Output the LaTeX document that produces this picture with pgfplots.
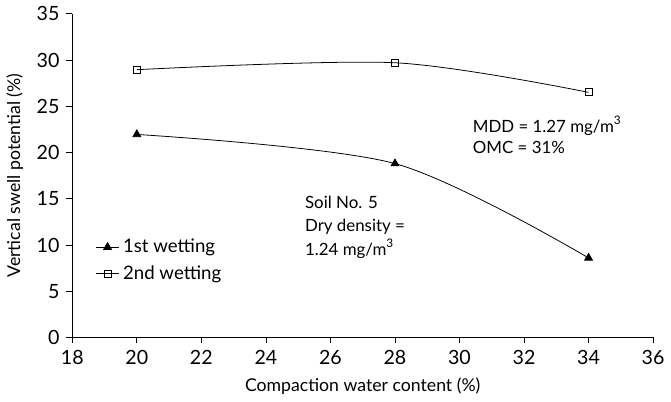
\documentclass[border=0pt]{standalone}
\usepackage{fontspec}
\setmainfont{Lato}
\usepackage{pgfplots}
\pgfplotsset{compat=1.18}

\begin{document}
\begin{tikzpicture}
\begin{axis}[
    scale only axis,
    width=296pt, height=165pt,
    xmin=18, xmax=36, ymin=0, ymax=35,
    xtick={18,20,...,36}, ytick={0,5,...,35},
    axis lines=left,
    axis line style={-},
    tick align=outside,
    tick pos=left,
    major tick length=3pt,
    tick style={black, thin},
    /pgf/number format/assume math mode=true,
    ticklabel style={font=\fontsize{10}{11}\selectfont},
    label style={font=\fontsize{9}{10}\selectfont},
    xlabel={Compaction water content (\%)},
    ylabel={Vertical swell potential (\%)},
    legend style={draw=none, fill=none, font=\fontsize{9.5}{11}\selectfont,
        at={(rel axis cs:0.03,0.33)}, anchor=north west,
        row sep=1pt},
    legend cell align=left,
    legend image code/.code={
        \draw[mark repeat=2,mark phase=2]
        plot coordinates {(0cm,0cm) (0.2cm,0cm) (0.4cm,0cm)};},
]
\addplot[black, thin, smooth, tension=0.5, mark=triangle*, mark size=2.3pt,
    mark options={fill=black}]
    coordinates {(20,21.95) (28,18.8) (34,8.6)};
\addlegendentry{1st wetting}
\addplot[black, thin, smooth, tension=0.5, mark=square, mark size=1.8pt,
    mark options={fill=white}]
    coordinates {(20,28.95) (28,29.7) (34,26.5)};
\addlegendentry{2nd wetting}

\node[anchor=west, font=\fontsize{8.6}{10}\selectfont] at (axis cs:30.2,22.9) {MDD = 1.27 mg/m\textsuperscript{3}};
\node[anchor=west, font=\fontsize{8.6}{10}\selectfont] at (axis cs:30.2,20.5) {OMC = 31\%};
\node[anchor=west, font=\fontsize{8.6}{10}\selectfont] at (axis cs:25.0,14.6) {Soil No. 5};
\node[anchor=west, font=\fontsize{8.6}{10}\selectfont] at (axis cs:25.0,12.0) {Dry density =};
\node[anchor=west, font=\fontsize{8.6}{10}\selectfont] at (axis cs:25.0,9.6) {1.24 mg/m\textsuperscript{3}};
\end{axis}
\end{tikzpicture}
\end{document}
